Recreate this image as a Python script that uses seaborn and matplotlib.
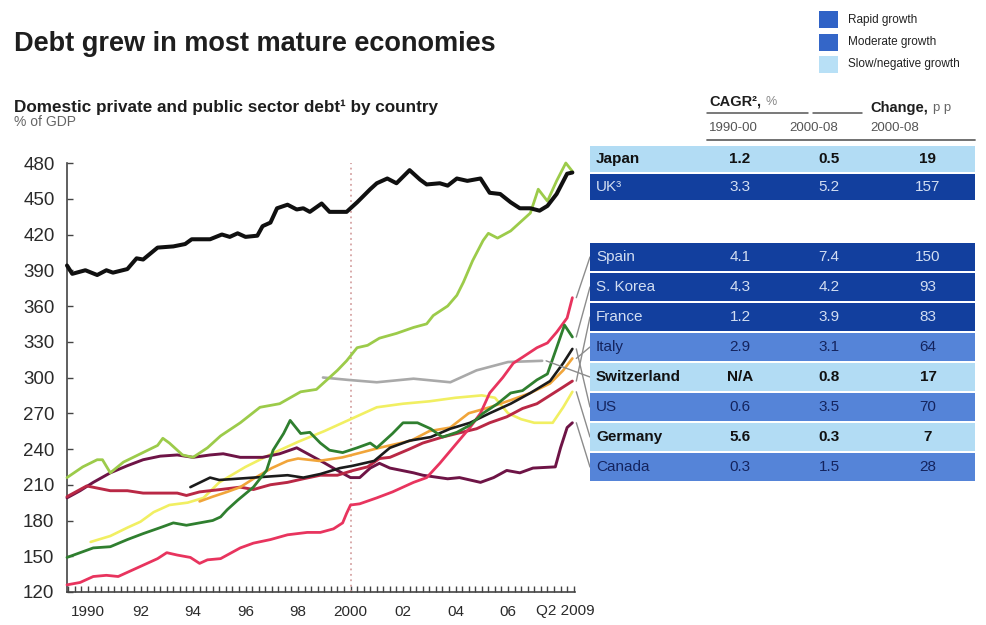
import numpy as np
import pandas as pd
import matplotlib
matplotlib.use("Agg")
import matplotlib.pyplot as plt
import seaborn as sns
from matplotlib.patches import Rectangle, ConnectionPatch

sns.set_theme(style="white")
plt.rcParams['font.family'] = ['Liberation Sans', 'DejaVu Sans']

# ---- Debt series, % of GDP (year, value) ----
JAPAN_T = [1989.2, 1989.4, 1989.9, 1990.35, 1990.7, 1990.95, 1991.5, 1991.85, 1992.1, 1992.65,
           1993.25, 1993.7, 1993.95, 1994.65, 1995.1, 1995.4, 1995.7, 1996.0, 1996.45, 1996.65,
           1996.95, 1997.2, 1997.6, 1997.95, 1998.2, 1998.45, 1998.9, 1999.2, 1999.85, 2000.25,
           2000.75, 2001.0, 2001.4, 2001.75, 2002.25, 2002.65, 2002.9, 2003.4, 2003.7, 2004.05,
           2004.45, 2004.95, 2005.3, 2005.7, 2006.1, 2006.45, 2006.85, 2007.2, 2007.5, 2007.85,
           2008.25, 2008.45]
JAPAN_V = [394, 387, 390, 386, 390, 388, 391, 400, 399, 409, 410, 412, 416, 416, 420, 418, 421,
           418, 419, 427, 430, 442, 445, 441, 442, 439, 446, 439, 439, 447, 458, 463, 467, 463,
           474, 466, 462, 463, 461, 467, 465, 467, 455, 454, 447, 442, 442, 440, 444, 454, 471, 472]

UK_T = [1989.2, 1989.8, 1990.35, 1990.55, 1990.85, 1991.35, 1992.0, 1992.65, 1992.85, 1993.1,
        1993.6, 1994.0, 1994.55, 1995.05, 1995.8, 1996.55, 1997.3, 1998.1, 1998.7, 1999.1,
        1999.5, 1999.85, 2000.25, 2000.65, 2001.1, 2001.75, 2002.4, 2002.9, 2003.15, 2003.7,
        2004.05, 2004.3, 2004.65, 2005.05, 2005.25, 2005.6, 2006.1, 2006.45, 2006.85, 2007.15,
        2007.5, 2007.85, 2008.2, 2008.45]
UK_V = [216, 225, 231, 231, 220, 229, 236, 243, 249, 245, 235, 233, 241, 251, 262, 275, 278,
        288, 290, 298, 306, 314, 325, 327, 333, 337, 342, 345, 352, 360, 369, 380, 398, 415,
        421, 417, 423, 430, 438, 458, 448, 465, 480, 473]

SPAIN_T = [1989.2, 1989.7, 1990.2, 1990.7, 1991.15, 1991.85, 1992.25, 1992.65, 1993.0, 1993.4,
           1993.9, 1994.25, 1994.55, 1995.05, 1995.8, 1996.3, 1996.95, 1997.6, 1998.35, 1998.85,
           1999.35, 1999.7, 1999.85, 2000.0, 2000.35, 2001.0, 2001.6, 2002.4, 2002.9, 2003.4,
           2004.05, 2004.55, 2004.95, 2005.3, 2005.8, 2006.2, 2006.55, 2007.1, 2007.5, 2007.85,
           2008.25, 2008.45]
SPAIN_V = [126, 128, 133, 134, 133, 140, 144, 148, 153, 151, 149, 144, 147, 148, 157, 161, 164,
           168, 170, 170, 173, 178, 186, 193, 194, 199, 204, 212, 216, 228, 245, 258, 270, 287,
           300, 312, 317, 325, 329, 338, 350, 367]

KOREA_T = [1989.2, 1989.7, 1990.2, 1990.85, 1991.5, 1992.1, 1992.75, 1993.25, 1993.75, 1994.25,
           1994.75, 1995.05, 1995.3, 1995.7, 1996.3, 1996.8, 1997.05, 1997.45, 1997.7, 1998.1,
           1998.45, 1998.85, 1999.2, 1999.7, 2000.25, 2000.75, 2001.0, 2001.6, 2002.0, 2002.55,
           2003.05, 2003.5, 2004.05, 2004.55, 2005.05, 2005.6, 2006.1, 2006.55, 2007.1, 2007.5,
           2007.85, 2008.15, 2008.45]
KOREA_V = [149, 153, 157, 158, 164, 169, 174, 178, 176, 178, 180, 183, 189, 197, 208, 222, 239,
           253, 264, 253, 254, 245, 239, 237, 241, 245, 241, 253, 262, 262, 257, 250, 254, 260,
           270, 278, 287, 289, 298, 303, 325, 344, 334]

FRANCE_T = [1989.2, 1989.95, 1990.85, 1991.5, 1992.1, 1993.4, 1993.75, 1994.25, 1995.05, 1995.8,
            1996.3, 1996.95, 1997.6, 1998.2, 1998.85, 1999.5, 2000.1, 2000.65, 2001.1, 2001.5,
            2002.25, 2002.75, 2003.5, 2004.05, 2004.8, 2005.3, 2005.95, 2006.55, 2007.1, 2007.6,
            2008.1, 2008.45]
FRANCE_V = [200, 209, 205, 205, 203, 203, 201, 204, 206, 208, 206, 210, 212, 215, 218, 218, 222,
            225, 232, 233, 240, 245, 250, 253, 257, 262, 267, 274, 278, 285, 292, 297]

ITALY_T = [1994.25, 1994.75, 1995.3, 1995.8, 1996.3, 1997.0, 1997.6, 1998.0, 1998.8, 1999.7,
           2000.4, 2001.1, 2001.9, 2002.3, 2003.0, 2003.8, 2004.5, 2005.3, 2006.1, 2006.85,
           2007.6, 2008.1, 2008.45]
ITALY_V = [196, 200, 204, 208, 215, 224, 230, 232, 230, 233, 237, 241, 245, 247, 255, 258, 270,
           275, 281, 287, 295, 306, 316]

SWISS_T = [1998.95, 1999.9, 2001.0, 2002.4, 2003.8, 2004.8, 2006.0, 2007.3]
SWISS_V = [300, 298, 296, 299, 296, 306, 313, 314]

US_T = [1993.9, 1994.65, 1995.0, 1996.3, 1997.6, 1998.2, 1998.85, 1999.6, 2000.1, 2000.9,
        2001.5, 2002.25, 2003.05, 2003.8, 2004.55, 2005.3, 2006.1, 2006.85, 2007.6, 2008.1,
        2008.45]
US_V = [208, 216, 214, 216, 218, 216, 219, 224, 226, 230, 241, 247, 250, 257, 262, 270, 278,
        287, 297, 312, 324]

GERMANY_T = [1990.1, 1990.85, 1991.5, 1992.0, 1992.5, 1993.1, 1993.8, 1994.4, 1995.0, 1996.0,
             1997.0, 1998.0, 1999.0, 2000.0, 2000.5, 2001.0, 2002.0, 2003.0, 2004.0, 2005.0,
             2005.5, 2006.0, 2006.5, 2007.0, 2007.7, 2008.1, 2008.45]
GERMANY_V = [162, 167, 174, 179, 187, 193, 195, 199, 212, 225, 236, 246, 255, 265, 270, 275,
             278, 280, 283, 285, 283, 270, 265, 262, 262, 275, 288]

CANADA_T = [1989.2, 1989.7, 1990.2, 1990.85, 1991.5, 1992.1, 1992.75, 1993.4, 1994.0, 1994.65,
            1995.15, 1995.8, 1996.65, 1997.3, 1997.95, 1998.45, 1998.95, 1999.5, 2000.0, 2000.35,
            2000.75, 2001.1, 2001.5, 2002.4, 2002.75, 2003.7, 2004.15, 2004.95, 2005.45, 2005.95,
            2006.45, 2006.95, 2007.8, 2008.0, 2008.25, 2008.45]
CANADA_V = [199, 205, 212, 220, 226, 231, 234, 235, 233, 235, 236, 233, 233, 236, 241, 235, 229,
            222, 216, 216, 224, 228, 224, 220, 218, 215, 216, 212, 216, 222, 220, 224, 225, 241,
            258, 262]

# ---- Growth table ----
TOP_ROWS = ["Japan", "UK³"]
TOP_CAGR_90 = ["1.2", "3.3"]
TOP_CAGR_00 = ["0.5", "5.2"]
TOP_CHANGE = ["19", "157"]
TOP_CLASS = ["slow", "rapid"]

BOTTOM_ROWS = ["Spain", "S. Korea", "France", "Italy", "Switzerland", "US", "Germany", "Canada"]
BOTTOM_CAGR_90 = ["4.1", "4.3", "1.2", "2.9", "N/A", "0.6", "5.6", "0.3"]
BOTTOM_CAGR_00 = ["7.4", "4.2", "3.9", "3.1", "0.8", "3.5", "0.3", "1.5"]
BOTTOM_CHANGE = ["150", "93", "83", "64", "17", "70", "7", "28"]
BOTTOM_CLASS = ["rapid", "rapid", "rapid", "moderate", "slow", "moderate", "slow", "moderate"]

X_TICKS = [1990, 1992, 1994, 1996, 1998, 2000, 2002, 2004, 2006, 2008.2]
X_LABELS = ["1990", "92", "94", "96", "98", "2000", "02", "04", "06", "Q2 2009"]

# country -> (years, values, colour, width)
SERIES = {
    "Germany": (GERMANY_T, GERMANY_V, "#f1ef62", 1.9),
    "Switzerland": (SWISS_T, SWISS_V, "#a9a9a9", 1.9),
    "Canada": (CANADA_T, CANADA_V, "#6e1446", 2.1),
    "France": (FRANCE_T, FRANCE_V, "#b92845", 2.1),
    "Italy": (ITALY_T, ITALY_V, "#f1a53a", 1.9),
    "Spain": (SPAIN_T, SPAIN_V, "#e8345e", 2.0),
    "US": (US_T, US_V, "#1b1b1b", 1.9),
    "S. Korea": (KOREA_T, KOREA_V, "#2f7f2f", 2.0),
    "UK³": (UK_T, UK_V, "#9ccb4a", 2.0),
    "Japan": (JAPAN_T, JAPAN_V, "#101010", 2.9),
}

CLASS_FILL = {"rapid": "#123f9e", "moderate": "#5584d8", "slow": "#b2dcf4"}
CLASS_TEXT = {"rapid": "#d2def2", "moderate": "#14245e", "slow": "#111111"}
CLASS_WEIGHT = {"rapid": "normal", "moderate": "normal", "slow": "bold"}

W, H = 987, 625
fig = plt.figure(figsize=(W / 100, H / 100), dpi=100)
fig.patch.set_facecolor("white")

# ---- line chart ----
ax = fig.add_axes([67 / W, 1 - 592 / H, 508 / W, 429 / H])
ax.set_facecolor("none")

ax.axvline(2000, color="#d6a4a4", ls=(0, (1, 2)), lw=1.3, zorder=1)

for name, (t, v, col, lw) in SERIES.items():
    df = pd.DataFrame({"year": t, "debt": v})
    sns.lineplot(data=df, x="year", y="debt", ax=ax, color=col, lw=lw,
                 estimator=None, sort=False, zorder=3)
for ln in ax.get_lines():
    ln.set_clip_on(False)
    ln.set_solid_joinstyle("round")

ax.set_xlim(1989.2, 2008.55)
ax.set_ylim(120, 480)
ax.set_xlabel("")
ax.set_ylabel("")
ax.set_yticks(range(120, 481, 30))
ax.tick_params(axis="y", direction="in", length=4, width=1, color="#444",
               labelsize=13.5, labelcolor="#2a2a2a", pad=9, left=True)
ax.xaxis.remove_overlapping_locs = False
ax.set_xticks(X_TICKS)
ax.set_xticklabels(X_LABELS)
ax.set_xticks(np.arange(1989.25, 2008.51, 0.25), minor=True)
ax.tick_params(axis="x", which="major", length=0, labelsize=11, labelcolor="#2a2a2a", pad=9)
ax.tick_params(axis="x", which="minor", direction="in", length=4.5, width=1.0, color="#444",
               bottom=True)
for s in ["top", "right"]:
    ax.spines[s].set_visible(False)
for s in ["left", "bottom"]:
    ax.spines[s].set_color("#444")
    ax.spines[s].set_linewidth(1.2)

# ---- annotation layer in pixel units ----
ov = fig.add_axes([0, 0, 1, 1], zorder=5)
ov.set_xlim(0, W)
ov.set_ylim(H, 0)
ov.axis("off")
ov.patch.set_alpha(0)

ov.text(14, 44, "Debt grew in most mature economies", fontsize=19.5, fontweight="bold",
        color="#1e1e1e", va="center", ha="left")
ov.text(14, 107, "Domestic private and public sector debt¹ by country", fontsize=12.3,
        fontweight="bold", color="#1e1e1e", va="center", ha="left")
ov.text(14, 122, "% of GDP", fontsize=10, color="#666", va="center", ha="left")

# legend
legend_items = [("rapid", "Rapid growth"), ("moderate", "Moderate growth"),
                ("slow", "Slow/negative growth")]
for i, (cls, lab) in enumerate(legend_items):
    y0 = 11 + i * 22.5
    col = {"rapid": "#2f62c6", "moderate": "#3466c8", "slow": "#b8e0f6"}[cls]
    ov.add_patch(Rectangle((819, y0), 19, 17, color=col, lw=0))
    ov.text(848, y0 + 8.5, lab, fontsize=8.5, color="#222", va="center", ha="left")

# table header
ov.text(709, 102, "CAGR²,", fontsize=10.5, fontweight="bold", color="#1e1e1e", va="center")
ov.text(765, 102, "%", fontsize=9, color="#888", va="center")
ov.text(870, 108, "Change,", fontsize=10.5, fontweight="bold", color="#1e1e1e", va="center")
ov.text(933, 108, "p p", fontsize=9.5, color="#666", va="center")
ov.plot([707, 808], [113, 113], color="#555", lw=1.1)
ov.plot([813, 862], [113, 113], color="#555", lw=1.1)
for xh, lab in [(709, "1990-00"), (789, "2000-08"), (870, "2000-08")]:
    ov.text(xh, 128, lab, fontsize=9.5, color="#555", va="center", ha="left")
ov.plot([707, 975], [140, 140], color="#666", lw=1.3)

TX0, TX1 = 590, 975
COL_X = [740, 829, 928]


def draw_rows(names, c90, c00, chg, cls, top, pitch):
    centers = []
    for i in range(len(names)):
        y0 = top + i * pitch
        ov.add_patch(Rectangle((TX0, y0), TX1 - TX0, pitch - 2, color=CLASS_FILL[cls[i]], lw=0))
        yc = y0 + (pitch - 2) / 2
        centers.append(yc)
        kw = dict(fontsize=11, color=CLASS_TEXT[cls[i]], fontweight=CLASS_WEIGHT[cls[i]],
                  va="center")
        ov.text(596, yc, names[i], ha="left", **kw)
        for x, val in zip(COL_X, (c90[i], c00[i], chg[i])):
            ov.text(x, yc, val, ha="center", **kw)
    return centers


draw_rows(TOP_ROWS, TOP_CAGR_90, TOP_CAGR_00, TOP_CHANGE, TOP_CLASS, 146, 28)
centers = draw_rows(BOTTOM_ROWS, BOTTOM_CAGR_90, BOTTOM_CAGR_00, BOTTOM_CHANGE, BOTTOM_CLASS,
                    243, 30)

# leader lines from each series end to its table row
for name, yc in zip(BOTTOM_ROWS, centers):
    t, v, col, lw = SERIES[name]
    cp = ConnectionPatch(xyA=(t[-1] + 0.15, v[-1]), coordsA=ax.transData,
                         xyB=(TX0, yc), coordsB=ov.transData,
                         color="#8c8c8c", lw=1.0, zorder=4)
    fig.add_artist(cp)

fig.savefig("out.png", dpi=100, facecolor="white")
